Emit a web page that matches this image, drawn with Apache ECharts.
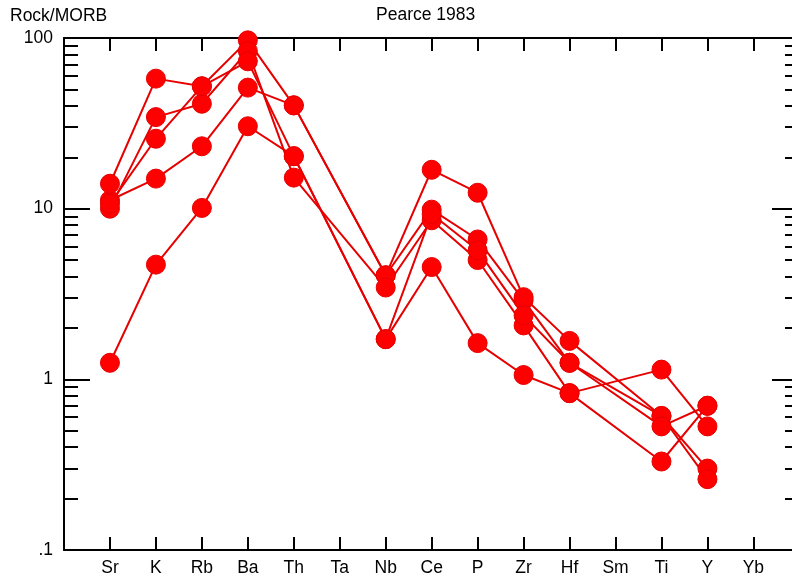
<!DOCTYPE html>
<html>
<head>
<meta charset="utf-8">
<script src="https://cdn.jsdelivr.net/npm/echarts@6/dist/echarts.min.js"></script>
<style>
  html, body { margin: 0; padding: 0; background: #fff; }
  #chart { width: 792px; height: 582px; }
</style>
</head>
<body>
<div id="chart"></div>
<script>
// element order along the x axis (Ta, Sm, Yb have no values)
var elements = ['Sr', 'K', 'Rb', 'Ba', 'Th', 'Ta', 'Nb', 'Ce', 'P', 'Zr', 'Hf', 'Sm', 'Ti', 'Y', 'Yb'];

// Rock/MORB ratios, one array per sample
var sample1 = [1.25, 4.7, 10.1, 30.4, 20.3, null, 1.72, 4.55, 1.63, 1.06, 0.83, null, 1.14, 0.53, null];
var sample2 = [11.2, 15.0, 23.2, 51.2, 40.3, null, 4.07, 9.87, 6.6, 2.9, 1.25, null, 0.61, 0.30, null];
var sample3 = [14.0, 57.8, 52.1, 96.9, 40.3, null, 4.07, 16.9, 12.4, 3.03, 1.68, null, 0.61, 0.26, null];
var sample4 = [10.0, 34.4, 41.2, 84.0, 15.2, null, 3.45, 8.55, 5.0, 2.07, 0.83, null, 0.33, 0.70, null];
var sample5 = [10.7, 25.7, 52.1, 73.0, 20.3, null, 1.72, 9.3, 5.7, 2.37, 1.25, null, 0.53, 0.70, null];
var samples = [sample1, sample2, sample3, sample4, sample5];

var yLabels = { '100': '100', '10': '10', '1': '1', '0.1': '.1' };

// minor log ticks 2..9 in each decade
var minorTicks = [];
[0.1, 1, 10].forEach(function (d) {
    for (var k = 2; k <= 9; k++) minorTicks.push(+(d * k).toFixed(3));
});
var elementIdx = elements.map(function (e, i) { return i; });

var font = 'Liberation Sans, Arial, Helvetica, sans-serif';
var black = '#000';

var chart = echarts.init(document.getElementById('chart'));

// the plot frame's right edge falls just past the canvas, so the right side
// shows only the inner part of its ticks
function yAxisDef(pos, isMajor) {
    var len = pos === 'left' ? (isMajor ? 26 : 14) : (isMajor ? 20 : 7);
    return {
        type: 'log',
        logBase: 10,
        position: pos,
        min: 0.1,
        max: 100,
        axisLine: { show: isMajor && pos === 'left', onZero: false, lineStyle: { color: black, width: 2 } },
        axisTick: isMajor
            ? { show: true, inside: true, length: len, lineStyle: { color: black, width: 2 } }
            : { show: true, inside: true, length: len, customValues: minorTicks, lineStyle: { color: black, width: 2 } },
        axisLabel: {
            show: isMajor && pos === 'left',
            margin: 11,
            color: black,
            fontFamily: font,
            fontSize: 17.5,
            formatter: function (v) { return yLabels[String(v)] || ''; }
        },
        splitLine: { show: false },
        minorTick: { show: false }
    };
}

function xAxisDef(pos) {
    return {
        type: 'value',
        position: pos,
        min: -1,
        max: 14.84,
        axisLine: { show: true, onZero: false, lineStyle: { color: black, width: 2 } },
        axisTick: { show: true, inside: true, length: 13, customValues: elementIdx, lineStyle: { color: black, width: 2 } },
        axisLabel: {
            show: pos === 'bottom',
            customValues: elementIdx,
            margin: 9,
            color: black,
            fontFamily: font,
            fontSize: 17.5,
            formatter: function (v) { return elements[v] || ''; }
        },
        splitLine: { show: false }
    };
}

var series = samples.map(function (vals, s) {
    return {
        name: 'sample' + (s + 1),
        type: 'line',
        xAxisIndex: 0,
        yAxisIndex: 0,
        data: vals.map(function (v, i) { return [i, v]; })
                  .filter(function (p) { return p[1] != null; }),
        symbol: 'circle',
        symbolSize: 19,
        itemStyle: { color: '#ff0000', borderColor: '#e60000', borderWidth: 1 },
        lineStyle: { color: '#e60000', width: 2 },
        emphasis: { disabled: true }
    };
});

var option = {
    animation: false,
    backgroundColor: '#fff',
    grid: { left: 64, right: 0, top: 38, bottom: 32, containLabel: false },
    graphic: [
        {
            type: 'text', left: 10, top: 7,
            style: { text: 'Rock/MORB', fill: black, font: '17.5px ' + font }
        },
        {
            type: 'text', left: 376, top: 6,
            style: { text: 'Pearce 1983', fill: black, font: '17.5px ' + font }
        }
    ],
    xAxis: [xAxisDef('bottom'), xAxisDef('top')],
    yAxis: [
        yAxisDef('left', true),
        yAxisDef('left', false),
        yAxisDef('right', true),
        yAxisDef('right', false)
    ],
    series: series
};

chart.setOption(option);
</script>
</body>
</html>
